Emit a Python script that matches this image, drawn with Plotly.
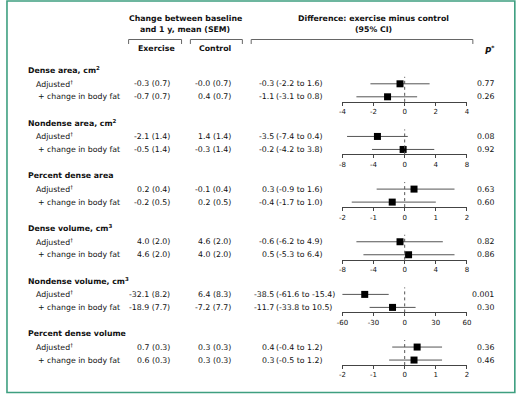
import plotly.graph_objects as go

W, H = 520, 394

# ---------------- data ----------------
groups = ["Dense area, cm<sup>2</sup>", "Nondense area, cm<sup>2</sup>", "Percent dense area",
          "Dense volume, cm<sup>3</sup>", "Nondense volume, cm<sup>3</sup>", "Percent dense volume"]
row_labels = ["Adjusted<sup>†</sup>", "+ change in body fat"]

ex_mean = [[-0.3, -0.7], [-2.1, -0.5], [0.2, -0.2], [4.0, 4.6], [-32.1, -18.9], [0.7, 0.6]]
ex_sem = [[0.7, 0.7], [1.4, 1.4], [0.4, 0.5], [2.0, 2.0], [8.2, 7.7], [0.3, 0.3]]
ctl_mean = [[-0.0, 0.4], [1.4, -0.3], [-0.1, 0.2], [4.6, 4.0], [6.4, -7.2], [0.3, 0.3]]
ctl_sem = [[0.7, 0.7], [1.4, 1.4], [0.4, 0.5], [2.0, 2.0], [8.3, 7.7], [0.3, 0.3]]
diff_est = [[-0.3, -1.1], [-3.5, -0.2], [0.3, -0.4], [-0.6, 0.5], [-38.5, -11.7], [0.4, 0.3]]
diff_lo = [[-2.2, -3.1], [-7.4, -4.2], [-0.9, -1.7], [-6.2, -5.3], [-61.6, -33.8], [-0.4, -0.5]]
diff_hi = [[1.6, 0.8], [0.4, 3.8], [1.6, 1.0], [4.9, 6.4], [-15.4, 10.5], [1.2, 1.2]]
p_values = [["0.77", "0.26"], ["0.08", "0.92"], ["0.63", "0.60"], ["0.82", "0.86"],
            ["0.001", "0.30"], ["0.36", "0.46"]]
axis_limit = [4, 8, 2, 8, 60, 2]
axis_step = [2, 4, 1, 4, 30, 1]

# ---------------- helpers ----------------
FONT = "DejaVu Sans"
FS = 7.8
TXT = "#111111"


def px(x):
    return x / W


def py(y):
    return 1 - y / H


fig = go.Figure()
annotations = []
shapes = []
layout_axes = {}


def ann(x, y, text, anchor="left", size=FS, bold=False):
    annotations.append(dict(
        x=px(x), y=py(y), xref="paper", yref="paper", text=("<b>%s</b>" % text) if bold else text,
        showarrow=False, xanchor=anchor, yanchor="middle",
        font=dict(family=FONT, size=size, color=TXT), borderpad=0))


# header
ann(183, 18, "Change between baseline", "center", bold=True)
ann(183, 29.5, "and 1 y, mean (SEM)", "center", bold=True)
ann(375, 18, "Difference: exercise minus control", "center", bold=True)
ann(375, 29.5, "(95% CI)", "center", bold=True)
ann(153, 49, "Exercise", "center", bold=True)
ann(214, 49, "Control", "center", bold=True)
ann(493, 49.5, "<i>P</i><sup>*</sup>", "center", size=8.5, bold=True)

for (a, b) in [(125, 179), (188, 241), (250, 476)]:
    shapes.append(dict(type="path", xref="paper", yref="paper",
                       path="M %f,%f L %f,%f L %f,%f L %f,%f" % (px(a), py(44), px(a), py(39.5),
                                                                px(b), py(39.5), px(b), py(44)),
                       line=dict(color="#666666", width=1)))

X0, X1 = 343, 470
for k in range(6):
    adj_y = 83.8 + 52.65 * k
    chg_y = adj_y + 13
    axis_y = adj_y + 18
    top_y = adj_y - 7
    head_y = adj_y - 13.5
    row_y = [adj_y, chg_y]

    ann(21, head_y, groups[k], "left", bold=True)
    for r in range(2):
        ann(30 if r == 0 else 32, row_y[r], row_labels[r], "left")
        ann(168, row_y[r], "%.1f (%.1f)" % (ex_mean[k][r], ex_sem[k][r]), "right")
        ann(230, row_y[r], "%.1f (%.1f)" % (ctl_mean[k][r], ctl_sem[k][r]), "right")
        ann(274, row_y[r], "%.1f" % diff_est[k][r], "right")
        ann(274, row_y[r], "(%.1f to %.1f)" % (diff_lo[k][r], diff_hi[k][r]), "left")
        ann(499, row_y[r], p_values[k][r], "right")

    unit = chg_y - adj_y
    y_lo = 0 - (axis_y - chg_y) / unit
    y_hi = 1 + (adj_y - top_y) / unit

    xs = "x" if k == 0 else "x%d" % (k + 1)
    ys = "y" if k == 0 else "y%d" % (k + 1)
    est = diff_est[k]
    fig.add_trace(go.Scatter(
        x=est, y=[1, 0], xaxis=xs, yaxis=ys, mode="markers",
        marker=dict(symbol="square", size=7, color="black"),
        error_x=dict(type="data", symmetric=False,
                     array=[diff_hi[k][i] - est[i] for i in range(2)],
                     arrayminus=[est[i] - diff_lo[k][i] for i in range(2)],
                     color="#555555", thickness=1, width=0),
        showlegend=False, hoverinfo="skip", cliponaxis=False))

    lim, step = axis_limit[k], axis_step[k]
    ticks = []
    v = -lim
    while v <= lim + 1e-9:
        ticks.append(v)
        v += step
    xname = "xaxis" if k == 0 else "xaxis%d" % (k + 1)
    yname = "yaxis" if k == 0 else "yaxis%d" % (k + 1)
    layout_axes[xname] = dict(
        domain=[px(X0), px(X1)], anchor=ys, range=[-lim, lim], tickvals=ticks,
        ticktext=["%g" % t for t in ticks],
        showline=True, linecolor="#444444", linewidth=1, ticks="outside", ticklen=3,
        tickcolor="#444444", tickfont=dict(family=FONT, size=7, color=TXT),
        showgrid=False, zeroline=False, fixedrange=True)
    layout_axes[yname] = dict(domain=[py(axis_y), py(top_y)], range=[y_lo, y_hi],
                              visible=False, anchor=xs, fixedrange=True)

    shapes.append(dict(type="line", xref=xs, yref="paper", x0=0, x1=0,
                       y0=py(axis_y), y1=py(top_y),
                       line=dict(color="#555555", width=1, dash="dot")))

# border
shapes.append(dict(type="rect", xref="paper", yref="paper", x0=px(1), x1=px(518.8),
                   y0=py(392.5), y1=py(1), line=dict(color="#3e9f80", width=1.6)))

fig.update_layout(
    width=W, height=H, margin=dict(l=0, r=0, t=0, b=0),
    paper_bgcolor="white", plot_bgcolor="rgba(0,0,0,0)",
    annotations=annotations, shapes=shapes, showlegend=False,
    **layout_axes)

fig.write_html("out.html", config={"displayModeBar": False},
               post_script="document.body.style.margin='0';document.body.style.overflow='hidden';")
